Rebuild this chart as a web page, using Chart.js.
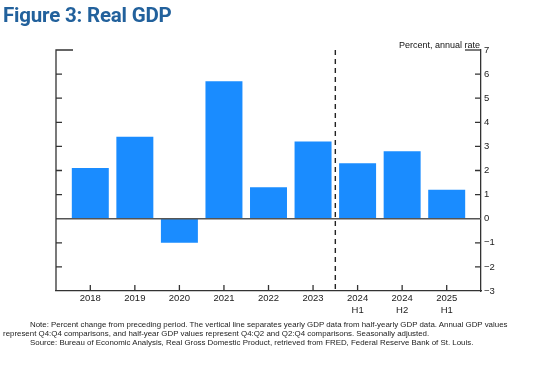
<!DOCTYPE html>
<html>
<head>
<meta charset="utf-8">
<script src="https://cdn.jsdelivr.net/npm/chart.js@4.4.1/dist/chart.umd.min.js"></script>
<style>
  html, body { margin: 0; padding: 0; background: #fff; }
  #wrap { position: relative; width: 550px; height: 370px; overflow: hidden; font-family: "Liberation Sans", Arial, sans-serif; }
  #title { position: absolute; left: 3px; top: 3px; font-family: Roboto, "Liberation Sans", sans-serif; font-weight: 700; font-size: 20.5px; color: #22619c; letter-spacing: -0.2px; white-space: nowrap; }
  #unit { position: absolute; right: 70px; top: 40px; font-size: 9px; color: #111; white-space: nowrap; }
  #note { position: absolute; left: 3px; top: 320px; width: 530px; font-size: 7.9px; line-height: 9.3px; color: #222; text-indent: 27px; }
  #source { position: absolute; left: 30px; top: 338px; font-size: 7.9px; color: #222; white-space: nowrap; }
  canvas { position: absolute; left: 0; top: 0; }
</style>
</head>
<body>
<div id="wrap">
  <canvas id="c" width="550" height="370"></canvas>
  <div id="title">Figure 3: Real GDP</div>
  <div id="unit">Percent, annual rate</div>
  <div id="note">Note: Percent change from preceding period. The vertical line separates yearly GDP data from half-yearly GDP data. Annual GDP values represent Q4:Q4 comparisons, and half-year GDP values represent Q4:Q2 and Q2:Q4 comparisons. Seasonally adjusted.</div>
  <div id="source">Source: Bureau of Economic Analysis, Real Gross Domestic Product, retrieved from FRED, Federal Reserve Bank of St. Louis.</div>
</div>
<script>
const categories = ['2018', '2019', '2020', '2021', '2022', '2023', '2024 H1', '2024 H2', '2025 H1'];
const gdpGrowth = [2.1, 3.4, -1.0, 5.7, 1.3, 3.2, 2.3, 2.8, 1.2];
const yTicks = [-3, -2, -1, 0, 1, 2, 3, 4, 5, 6, 7];
const dividerPosition = 5.5; // between 2023 and 2024 H1

const points = categories.map((c, i) => ({ x: i, y: gdpGrowth[i] }));

const axisColor = '#333';

const axesPlugin = {
  id: 'customAxes',
  afterDatasetsDraw(chart) {
    const { ctx, chartArea: a, scales: { x, y } } = chart;
    ctx.save();
    // zero line
    const y0 = y.getPixelForValue(0);
    ctx.strokeStyle = '#555';
    ctx.lineWidth = 1.6;
    ctx.beginPath();
    ctx.moveTo(a.left, y0);
    ctx.lineTo(a.right, y0);
    ctx.stroke();

    ctx.strokeStyle = axisColor;
    ctx.lineWidth = 1.3;
    // left axis + cap
    ctx.beginPath();
    ctx.moveTo(a.left + 17, a.top);
    ctx.lineTo(a.left, a.top);
    ctx.lineTo(a.left, a.bottom);
    ctx.stroke();
    // right cap
    ctx.beginPath();
    ctx.moveTo(a.right - 16, a.top);
    ctx.lineTo(a.right, a.top);
    ctx.stroke();
    // y ticks inward on both sides
    y.ticks.forEach(t => {
      const py = y.getPixelForValue(t.value);
      if (t.value === yTicks[yTicks.length - 1] || t.value === yTicks[0] || t.value === 0) return;
      ctx.beginPath();
      ctx.moveTo(a.left, py); ctx.lineTo(a.left + 6, py);
      ctx.moveTo(a.right, py); ctx.lineTo(a.right - 6, py);
      ctx.stroke();
    });
    // x ticks upward
    x.ticks.forEach(t => {
      const px = x.getPixelForValue(t.value);
      ctx.beginPath();
      ctx.moveTo(px, a.bottom); ctx.lineTo(px, a.bottom - 6);
      ctx.stroke();
    });
    // dashed divider
    const dx = x.getPixelForValue(dividerPosition);
    ctx.setLineDash([5, 4]);
    ctx.lineWidth = 1.4;
    ctx.strokeStyle = '#222';
    ctx.beginPath();
    ctx.moveTo(dx, a.top);
    ctx.lineTo(dx, a.bottom);
    ctx.stroke();
    ctx.restore();
  }
};

new Chart(document.getElementById('c'), {
  type: 'bar',
  data: {
    datasets: [{
      data: points,
      backgroundColor: '#1a8cff',
      borderWidth: 0,
      barPercentage: 0.83,
      categoryPercentage: 1.0
    }]
  },
  options: {
    responsive: false,
    animation: false,
    events: [],
    layout: { padding: { left: 56, top: 50, right: 0, bottom: 49 } },
    plugins: { legend: { display: false }, tooltip: { enabled: false } },
    scales: {
      x: {
        type: 'linear',
        offset: false,
        min: -0.77,
        max: 8.77,
        afterBuildTicks: s => { s.ticks = categories.map((c, i) => ({ value: i })); },
        afterFit: s => { s.height = 30; },
        grid: { display: false, drawTicks: false, offset: false },
        border: { display: true, color: axisColor, width: 1.3 },
        ticks: {
          padding: 2,
          autoSkip: false,
          maxRotation: 0,
          color: '#222',
          font: { family: '"Liberation Sans", Arial, sans-serif', size: 9.5 },
          callback: v => {
            const c = categories[Math.round(v)];
            return c ? c.split(' ') : '';
          }
        }
      },
      y: {
        position: 'right',
        min: -3,
        max: 7,
        afterBuildTicks: s => { s.ticks = yTicks.map(v => ({ value: v })); },
        afterFit: s => { s.width = 69; },
        grid: { display: false, drawTicks: false },
        border: { display: true, color: axisColor, width: 1.3 },
        ticks: {
          padding: 3,
          color: '#222',
          font: { family: '"Liberation Sans", Arial, sans-serif', size: 9.5 },
          callback: v => (v < 0 ? '\u2212' + Math.abs(v) : String(v))
        }
      }
    }
  },
  plugins: [axesPlugin]
});
</script>
</body>
</html>
